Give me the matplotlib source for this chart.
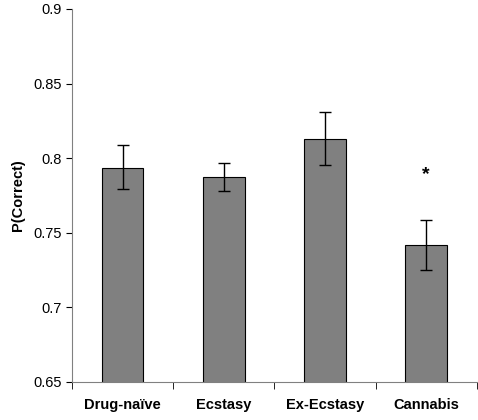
import matplotlib
matplotlib.use("Agg")
import matplotlib.pyplot as plt
import numpy as np

plt.rcParams["font.family"] = ["Liberation Sans", "DejaVu Sans"]

groups = ["Drug-naïve", "Ecstasy", "Ex-Ecstasy", "Cannabis"]
means = [0.7935, 0.7872, 0.8126, 0.7418]
err_hi = [0.8085, 0.7968, 0.8307, 0.7587]
err_lo = [0.7790, 0.7782, 0.7955, 0.7252]

x = np.arange(len(groups))
yerr = [np.subtract(means, err_lo), np.subtract(err_hi, means)]

fig = plt.figure(figsize=(4.78, 4.2), dpi=100)
ax = fig.add_axes([0.1506, 0.0912, 0.847, 0.8874])
ax.bar(x, means, width=0.41, color="#808080", edgecolor="black", linewidth=0.8,
       yerr=yerr, capsize=4, error_kw={"elinewidth": 1, "capthick": 1})
ax.text(x[3], 0.789, "*", ha="center", va="center", fontsize=14, fontweight="bold")

ax.set_xlim(-0.5, 3.5)
ax.set_ylim(0.65, 0.9)
ax.set_yticks([0.65, 0.7, 0.75, 0.8, 0.85, 0.9])
ax.set_yticklabels(["0.65", "0.7", "0.75", "0.8", "0.85", "0.9"], fontsize=10.5)
ax.set_xticks(x)
ax.set_xticklabels(groups, fontsize=10.5, fontweight="bold")
ax.tick_params(axis="x", length=0, pad=12)
ax.set_xticks(np.arange(-0.5, 4, 1), minor=True)
ax.tick_params(axis="x", which="minor", length=5, direction="out")
ax.tick_params(axis="y", length=4, direction="out")
ax.set_ylabel("P(Correct)", fontsize=10.5, fontweight="bold", labelpad=6)
for s in ["top", "right"]:
    ax.spines[s].set_visible(False)
ax.spines["left"].set_color("#808080")
ax.spines["bottom"].set_color("#808080")

fig.savefig("out.png", dpi=100)
